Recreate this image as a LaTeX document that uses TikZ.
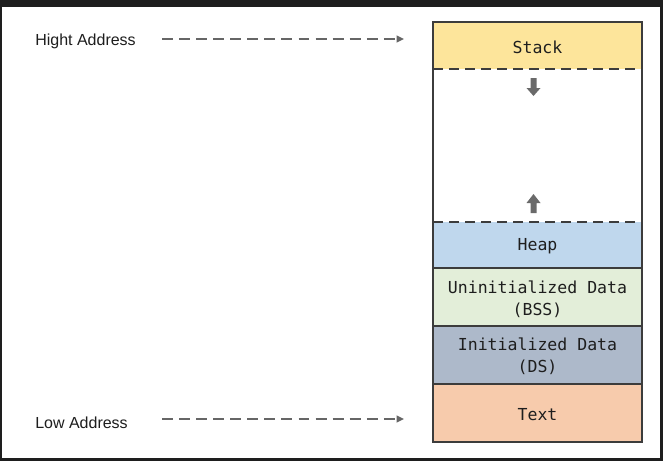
\documentclass[tikz,border=0pt]{standalone}
\usepackage{fontspec}
\setmainfont{Liberation Sans}
\newfontfamily\segfont{DejaVu Sans Mono}
\usetikzlibrary{arrows.meta}

\definecolor{framedark}{HTML}{1E1E1E}
\definecolor{edge}{HTML}{3C3C3C}
\definecolor{ink}{HTML}{1E1E1E}
\definecolor{pointer}{HTML}{666666}
\definecolor{stackfill}{HTML}{FDE59B}
\definecolor{heapfill}{HTML}{BFD7ED}
\definecolor{bssfill}{HTML}{E3EED9}
\definecolor{dsfill}{HTML}{ADB9CA}
\definecolor{textfill}{HTML}{F7CBAC}
\definecolor{growth}{HTML}{6A6A6A}

\begin{document}
\begin{tikzpicture}[x=0.75pt,y=-0.75pt,
  seglabel/.style={font=\segfont\fontsize{12.4pt}{16.5pt}\selectfont, text=ink, align=center, inner sep=0pt},
  addrlabel/.style={font=\fontsize{12pt}{14pt}\selectfont, text=ink, anchor=west, inner sep=0pt},
  addrarrow/.style={draw=pointer, line width=1.2pt, dash pattern=on 8.2pt off 4.6pt,
    -{Triangle[length=5.5pt,width=5pt]}},
  boundary/.style={draw=edge, line width=1.5pt},
  growline/.style={draw=edge, line width=1.5pt, dash pattern=on 7.5pt off 4.5pt},
  growarrow/.style={fill=growth, draw=none}]
\useasboundingbox (0,0) rectangle (663,461);
% frame and canvas
\fill[framedark] (0,0) rectangle (663,461);
\fill[white] (2,7) rectangle (660,458);

% segment fills
\fill[stackfill] (433,22) rectangle (642,69);
\fill[heapfill]  (433,222) rectangle (642,268);
\fill[bssfill]   (433,268) rectangle (642,326);
\fill[dsfill]    (433,326) rectangle (642,384);
\fill[textfill]  (433,384) rectangle (642,442);

% segment boundaries
\draw[growline] (433,69) -- (642,69);
\draw[growline] (433,222) -- (642,222);
\draw[boundary] (433,268) -- (642,268);
\draw[boundary] (433,326) -- (642,326);
\draw[boundary] (433,384) -- (642,384);
\draw[boundary] (433,22) rectangle (642,442);

% growth direction arrows
\fill[growarrow] (530.5,78) -- (536.5,78) -- (536.5,88) -- (540.5,88) -- (533.5,96)
  -- (526.5,88) -- (530.5,88) -- cycle;
\fill[growarrow] (530.5,213) -- (536.5,213) -- (536.5,203) -- (540.5,203) -- (533.5,194)
  -- (526.5,203) -- (530.5,203) -- cycle;

% segment labels
\node[seglabel] (stack) at (537.5,47.5) {Stack};
\node[seglabel] (heap)  at (537.5,246.5) {Heap};
\node[seglabel] (bss)   at (537.5,299) {Uninitialized Data\\(BSS)};
\node[seglabel] (ds)    at (537.5,356) {Initialized Data\\(DS)};
\node[seglabel] (text)  at (537.5,414.5) {Text};

% address labels and pointers
\node[addrlabel] (high) at (35,41) {Hight Address};
\node[addrlabel] (low)  at (35,423) {Low Address};
\coordinate (highstart) at (162,39);
\coordinate (highend)   at (404,39);
\coordinate (lowstart)  at (162,419);
\coordinate (lowend)    at (404,419);
\draw[addrarrow] (highstart) -- (highend);
\draw[addrarrow] (lowstart) -- (lowend);
\end{tikzpicture}
\end{document}
